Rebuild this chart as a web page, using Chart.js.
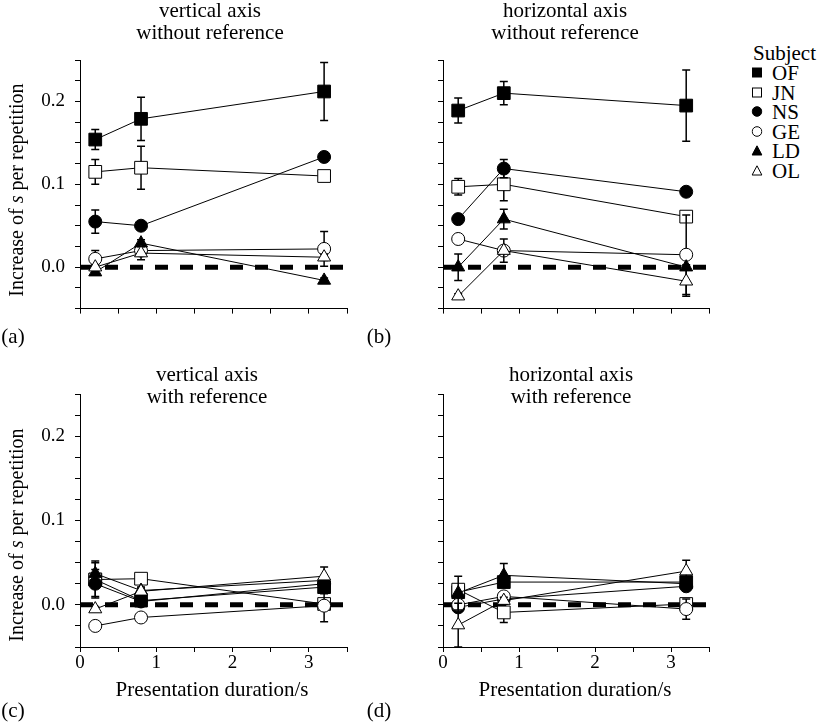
<!DOCTYPE html>
<html><head><meta charset="utf-8">
<script src="https://cdn.jsdelivr.net/npm/chart.js@4.4.1/dist/chart.umd.min.js"></script>
<style>
html,body{margin:0;padding:0;background:#fff;}
#wrap{position:relative;width:823px;height:724px;overflow:hidden;font-family:'Liberation Serif','Times New Roman',serif;color:#000;}
canvas{position:absolute;}
.t{position:absolute;white-space:nowrap;transform:translate(-50%,-50%);line-height:1.15;font-size:21px;pointer-events:none;}
.yl{position:absolute;white-space:nowrap;transform:translate(-50%,-50%) rotate(-90deg);line-height:1.15;font-size:20px;}
.lg{position:absolute;white-space:nowrap;transform:translateY(-50%);line-height:1.15;font-size:21px;}
.mk{position:absolute;transform:translate(-50%,-50%);}
</style></head>
<body><div id="wrap">
<canvas id="pa" width="360" height="330" style="left:0;top:0"></canvas>
<canvas id="pb" width="360" height="330" style="left:363px;top:0"></canvas>
<canvas id="pc" width="360" height="384" style="left:0;top:340px"></canvas>
<canvas id="pd" width="360" height="384" style="left:363px;top:340px"></canvas>

<div class="t" style="left:210px;top:10px">vertical axis</div>
<div class="t" style="left:210px;top:32px">without reference</div>
<div class="t" style="left:565px;top:10px">horizontal axis</div>
<div class="t" style="left:565px;top:32px">without reference</div>
<div class="t" style="left:207px;top:374px">vertical axis</div>
<div class="t" style="left:207px;top:396px">with reference</div>
<div class="t" style="left:571px;top:374px">horizontal axis</div>
<div class="t" style="left:571px;top:396px">with reference</div>

<div class="yl" style="left:16px;top:190px">Increase of <i>s</i> per repetition</div>
<div class="yl" style="left:16px;top:535px">Increase of <i>s</i> per repetition</div>

<div class="t" style="left:212px;top:689px">Presentation duration/s</div>
<div class="t" style="left:575px;top:689px">Presentation duration/s</div>

<div class="t" style="left:13px;top:336px">(a)</div>
<div class="t" style="left:379px;top:336px">(b)</div>
<div class="t" style="left:13px;top:710px">(c)</div>
<div class="t" style="left:379px;top:710px">(d)</div>

<div id="legend"></div>
</div>
<script>
// ---- data ----
const durations = [0.2, 0.8, 3.2];
const subjects = ['OF', 'JN', 'NS', 'GE', 'LD', 'OL'];
const xTickLabels = ['0', '1', '2', '3'];
const yTickLabels = ['0.0', '0.1', '0.2'];
const referenceLevel = 0;

// (a) vertical axis, without reference  (rows follow subjects)
const valuesA = [
  [0.154, 0.179, 0.212],
  [0.115, 0.120, 0.110],
  [0.055, 0.050, 0.133],
  [0.010, 0.020, 0.022],
  [-0.006, 0.029, -0.016],
  [0.000, 0.017, 0.012]
];
const errorsA = [
  [0.012, 0.026, 0.035],
  [0.015, 0.026, 0.003],
  [0.014, 0.003, 0.003],
  [0.010, 0.004, 0.021],
  [0.003, 0.004, 0.003],
  [0.003, 0.008, 0.004]
];
// (b) horizontal axis, without reference
const valuesB = [
  [0.189, 0.210, 0.195],
  [0.097, 0.100, 0.061],
  [0.058, 0.119, 0.091],
  [0.034, 0.020, 0.015],
  [0.000, 0.058, 0.000],
  [-0.035, 0.020, -0.017]
];
const errorsB = [
  [0.015, 0.014, 0.043],
  [0.010, 0.020, 0.003],
  [0.003, 0.011, 0.002],
  [0.004, 0.005, 0.048],
  [0.016, 0.012, 0.003],
  [0.003, 0.014, 0.018]
];
// (c) vertical axis, with reference
const valuesC = [
  [0.030, 0.005, 0.021],
  [0.030, 0.031, 0.001],
  [0.025, 0.004, 0.025],
  [-0.025, -0.015, -0.001],
  [0.037, 0.017, 0.029],
  [-0.005, 0.016, 0.034]
];
const errorsC = [
  [0.020, 0.004, 0.008],
  [0.004, 0.006, 0.004],
  [0.017, 0.002, 0.003],
  [0.002, 0.002, 0.019],
  [0.015, 0.004, 0.004],
  [0.003, 0.004, 0.011]
];
// (d) horizontal axis, with reference
const valuesD = [
  [0.015, 0.027, 0.027],
  [0.018, -0.009, 0.001],
  [-0.003, 0.007, 0.022],
  [0.000, 0.010, -0.005],
  [0.014, 0.035, 0.025],
  [-0.024, 0.005, 0.040]
];
const errorsD = [
  [0.004, 0.006, 0.006],
  [0.004, 0.012, 0.006],
  [0.004, 0.003, 0.004],
  [0.006, 0.003, 0.012],
  [0.020, 0.014, 0.006],
  [0.026, 0.004, 0.013]
];

// ---- styles ----
const markerShape = ['rect', 'rect', 'circle', 'circle', 'triangle', 'triangle'];
const markerFill = ['#000', '#fff', '#000', '#fff', '#000', '#fff'];
const markerRadius = [9, 9, 6.5, 6.5, 7.5, 7.5];
const X_MIN = 0, X_MAX = 3.5, Y_MIN = -0.05, Y_MAX = 0.25;
const FONT = "'Liberation Serif', 'Times New Roman', serif";

const errorBarPlugin = {
  id: 'errorBars',
  beforeDatasetDraw(chart, args) {
    const ds = chart.data.datasets[args.index];
    if (!ds.errors) return;
    const ys = chart.scales.y;
    const ctx = chart.ctx;
    ctx.save();
    ctx.strokeStyle = '#000';
    ctx.lineWidth = 1.5;
    args.meta.data.forEach((pt, i) => {
      const e = ds.errors[i];
      if (!e) return;
      const v = ds.data[i].y;
      const x = pt.x;
      const y1 = ys.getPixelForValue(v + e);
      const y2 = ys.getPixelForValue(v - e);
      ctx.beginPath();
      ctx.moveTo(x, y1); ctx.lineTo(x, y2);
      ctx.moveTo(x - 4, y1); ctx.lineTo(x + 4, y1);
      ctx.moveTo(x - 4, y2); ctx.lineTo(x + 4, y2);
      ctx.stroke();
    });
    ctx.restore();
  }
};

function labelFor(v, labels) {
  const hit = labels.find(l => Math.abs(parseFloat(l) - v) < 1e-6);
  return hit === undefined ? '' : hit;
}

function makePanel(id, values, errors, showY, showX, padTop, padRight, xHeight) {
  const datasets = subjects.map((name, i) => ({
    label: name,
    data: durations.map((d, j) => ({ x: d, y: values[i][j] })),
    errors: errors[i],
    borderColor: '#000',
    borderWidth: 1,
    pointStyle: markerShape[i],
    pointRadius: markerRadius[i],
    pointHoverRadius: markerRadius[i],
    pointBackgroundColor: markerFill[i],
    pointBorderColor: '#000',
    pointBorderWidth: 1,
    fill: false,
    tension: 0,
    clip: false,
    order: subjects.length - i
  }));
  datasets.push({
    label: 'reference',
    data: [{ x: X_MIN, y: referenceLevel }, { x: X_MAX, y: referenceLevel }],
    borderColor: '#000',
    borderWidth: 5,
    borderDash: [13, 12],
    borderCapStyle: 'butt',
    pointRadius: 0,
    fill: false,
    clip: false,
    order: 100
  });
  new Chart(document.getElementById(id), {
    type: 'line',
    data: { datasets },
    plugins: [errorBarPlugin],
    options: {
      responsive: false,
      animation: false,
      events: [],
      layout: { padding: { top: padTop, right: padRight, left: 0, bottom: 0 } },
      plugins: { legend: { display: false }, tooltip: { enabled: false }, title: { display: false } },
      scales: {
        x: {
          type: 'linear', min: X_MIN, max: X_MAX,
          afterFit: s => { s.height = xHeight; },
          ticks: {
            stepSize: 0.5, autoSkip: false, maxRotation: 0, padding: 0,
            color: '#000', font: { family: FONT, size: 19 },
            callback: v => showX ? labelFor(v, xTickLabels) : ''
          },
          grid: { display: true, drawOnChartArea: false, drawTicks: true, tickLength: 5, tickColor: '#000', tickWidth: 1 },
          border: { display: true, color: '#000', width: 1 }
        },
        y: {
          type: 'linear', min: Y_MIN, max: Y_MAX,
          afterFit: s => { s.width = 80; },
          ticks: {
            stepSize: 0.025, autoSkip: false, padding: 10,
            color: '#000', font: { family: FONT, size: 19 },
            callback: v => showY ? labelFor(v, yTickLabels) : ''
          },
          grid: { display: true, drawOnChartArea: false, drawTicks: true, tickLength: 5, tickColor: '#000', tickWidth: 1 },
          border: { display: true, color: '#000', width: 1 }
        }
      }
    }
  });
}

makePanel('pa', valuesA, errorsA, true, false, 60, 13, 17);
makePanel('pb', valuesB, errorsB, false, false, 60, 14, 17);
makePanel('pc', valuesC, errorsC, true, true, 54, 13, 77);
makePanel('pd', valuesD, errorsD, false, true, 54, 14, 77);

// ---- legend ----
const legendRowsY = [73, 92.5, 112, 131.5, 151, 170.5];
const legend = document.getElementById('legend');
function svgMarker(shape, fill) {
  let inner = '';
  if (shape === 'rect') inner = `<rect x="1" y="1" width="9" height="9" fill="${fill}" stroke="#000" stroke-width="1"/>`;
  else if (shape === 'circle') inner = `<circle cx="5.5" cy="5.5" r="4.8" fill="${fill}" stroke="#000" stroke-width="1"/>`;
  else inner = `<polygon points="5.5,0.8 10.4,10 0.6,10" fill="${fill}" stroke="#000" stroke-width="1"/>`;
  return `<svg width="11" height="11" viewBox="0 0 11 11">${inner}</svg>`;
}
let html = `<div class="lg" style="left:753px;top:53px">Subject</div>`;
subjects.forEach((s, i) => {
  html += `<div class="mk" style="left:757px;top:${legendRowsY[i]}px">${svgMarker(markerShape[i], markerFill[i])}</div>`;
  html += `<div class="lg" style="left:772px;top:${legendRowsY[i]}px">${s}</div>`;
});
legend.innerHTML = html;
</script>
</body></html>
